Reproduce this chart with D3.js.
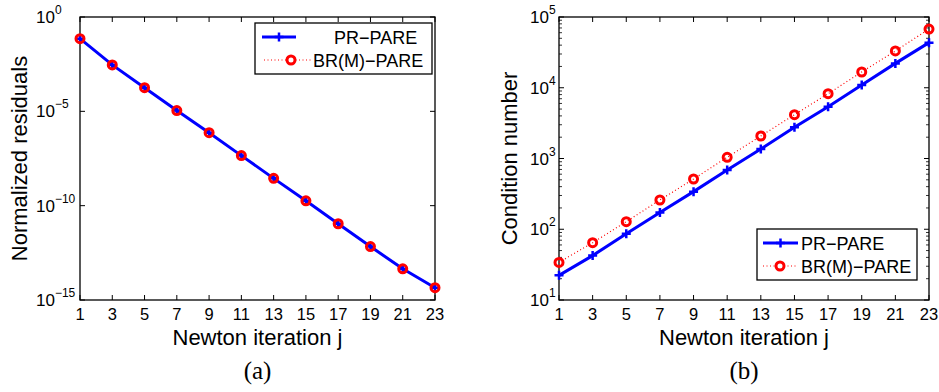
<!DOCTYPE html>
<html>
<head>
<meta charset="utf-8">
<script src="https://cdn.jsdelivr.net/npm/d3@7"></script>
<style>
  body { margin: 0; background: #fff; }
  svg { display: block; }
  text { font-family: "Liberation Sans", Arial, sans-serif; fill: #000; }
  .caption { font-family: "Liberation Serif", "DejaVu Serif", serif; }
</style>
</head>
<body>
<svg id="chart" width="939" height="392"></svg>
<script>
const iterations = [1, 3, 5, 7, 9, 11, 13, 15, 17, 19, 21, 23];
const seriesNames = ['PR\u2212PARE', 'BR(M)\u2212PARE'];

// (a) normalized residuals
const residualsPR = [7.1e-2, 2.9e-3, 1.8e-4, 1.1e-5, 7.4e-7, 4.5e-8, 2.8e-9, 1.8e-10, 1.1e-11, 6.8e-13, 4.5e-14, 4.5e-15];
const residualsBR = [7.1e-2, 2.9e-3, 1.8e-4, 1.1e-5, 7.4e-7, 4.5e-8, 2.8e-9, 1.8e-10, 1.1e-11, 6.8e-13, 4.5e-14, 4.5e-15];
const residualTicks = [0, -5, -10, -15];

// (b) condition number
const condPR = [22.3, 42.4, 86.5, 173, 340, 687, 1361, 2757, 5400, 10940, 22100, 43400];
const condBR = [34, 64.5, 128, 259, 513, 1040, 2080, 4160, 8240, 16700, 33100, 67600];
const condTicks = [1, 2, 3, 4, 5];

const svg = d3.select('#chart');
const blue = '#0000ff';
const red = '#ff0000';

function plusPath(px, py) {
  return `M${px - 4.5},${py}H${px + 4.5}M${px},${py - 4.5}V${py + 4.5}`;
}

function drawPanel(cfg) {
  const g = svg.append('g').attr('class', 'panel');
  const x = d3.scaleLinear().domain([1, 23]).range([cfg.left, cfg.right]);
  const y = d3.scaleLog().domain(cfg.yDomain).range([cfg.bottom, cfg.top]);

  // minor log ticks (inside, both sides)
  if (cfg.minor) {
    const minor = [];
    d3.range(Math.log10(cfg.yDomain[0]), Math.log10(cfg.yDomain[1])).forEach((e) => {
      d3.range(2, 10).forEach((m) => minor.push(m * Math.pow(10, e)));
    });
    [[cfg.left, 3], [cfg.right, -3]].forEach(([x0, len]) => {
      g.selectAll(null)
        .data(minor)
        .enter()
        .append('line')
        .attr('x1', x0).attr('x2', x0 + len)
        .attr('y1', (d) => y(d)).attr('y2', (d) => y(d))
        .attr('stroke', '#000').attr('stroke-width', 0.8);
    });
  }

  // major y ticks
  cfg.yTicks.forEach((e) => {
    const yy = y(Math.pow(10, e));
    g.append('line').attr('x1', cfg.left).attr('x2', cfg.left + 5).attr('y1', yy).attr('y2', yy).attr('stroke', '#000');
    g.append('line').attr('x1', cfg.right).attr('x2', cfg.right - 5).attr('y1', yy).attr('y2', yy).attr('stroke', '#000');
    const label = g.append('text')
      .attr('x', cfg.left - cfg.labelOffset)
      .attr('y', yy + 6)
      .style('font-size', '17px');
    label.append('tspan').text('10');
    label.append('tspan').attr('dy', -9).style('font-size', '12px').text(e < 0 ? '\u2212' + (-e) : e);
  });

  // x ticks
  [[cfg.bottom, -5], [cfg.top, 5]].forEach(([y0, len]) => {
    g.selectAll(null)
      .data(iterations)
      .enter()
      .append('line')
      .attr('x1', (d) => x(d)).attr('x2', (d) => x(d))
      .attr('y1', y0).attr('y2', y0 + len)
      .attr('stroke', '#000');
  });
  g.selectAll('text.xtick')
    .data(iterations)
    .enter()
    .append('text')
    .attr('class', 'xtick')
    .attr('x', (d) => x(d))
    .attr('y', cfg.bottom + 20)
    .attr('text-anchor', 'middle')
    .style('font-size', '16.5px')
    .text((d) => d);

  // box
  g.append('rect')
    .attr('x', cfg.left).attr('y', cfg.top)
    .attr('width', cfg.right - cfg.left).attr('height', cfg.bottom - cfg.top)
    .attr('fill', 'none').attr('stroke', '#000').attr('stroke-width', 1.3);

  // axis titles
  g.append('text')
    .attr('x', (cfg.left + cfg.right) / 2)
    .attr('y', cfg.bottom + 44.5)
    .attr('text-anchor', 'middle')
    .style('font-size', '22px')
    .text('Newton iteration j');
  g.append('text')
    .attr('transform', `translate(${cfg.yLabelX},${(cfg.top + cfg.bottom) / 2}) rotate(-90)`)
    .attr('text-anchor', 'middle')
    .style('font-size', '22px')
    .text(cfg.yLabel);
  g.append('text')
    .attr('class', 'caption')
    .attr('x', (cfg.left + cfg.right) / 2)
    .attr('y', cfg.bottom + 79)
    .attr('text-anchor', 'middle')
    .style('font-size', '25px')
    .text(cfg.caption);

  const line = d3.line().x((d) => x(d[0])).y((d) => y(d[1]));
  const prPts = iterations.map((j, i) => [j, cfg.pr[i]]);
  const brPts = iterations.map((j, i) => [j, cfg.br[i]]);

  // BR(M) dotted line
  g.append('path').datum(brPts).attr('d', line)
    .attr('fill', 'none').attr('stroke', red).attr('stroke-width', 1.2).attr('stroke-dasharray', '1,2.5');

  // PR line + plus markers
  g.append('path').datum(prPts).attr('d', line)
    .attr('fill', 'none').attr('stroke', blue).attr('stroke-width', 3);
  g.selectAll('path.plus')
    .data(prPts)
    .enter()
    .append('path')
    .attr('class', 'plus')
    .attr('d', (d) => plusPath(x(d[0]), y(d[1])))
    .attr('stroke', blue).attr('stroke-width', 2.5);

  // BR circles
  g.selectAll('circle.br')
    .data(brPts)
    .enter()
    .append('circle')
    .attr('class', 'br')
    .attr('cx', (d) => x(d[0])).attr('cy', (d) => y(d[1]))
    .attr('r', 4)
    .attr('fill', 'none').attr('stroke', red).attr('stroke-width', 3);

  // legend
  const L = cfg.legend;
  g.append('rect')
    .attr('x', L.x).attr('y', L.y).attr('width', L.w).attr('height', L.h)
    .attr('fill', '#fff').attr('stroke', '#000').attr('stroke-width', 1.3);
  const r1 = L.y + 14, r2 = L.y + 37;
  g.append('line').attr('x1', L.prLine[0]).attr('x2', L.prLine[1]).attr('y1', r1).attr('y2', r1)
    .attr('stroke', blue).attr('stroke-width', 3);
  g.append('path').attr('d', plusPath((L.prLine[0] + L.prLine[1]) / 2, r1))
    .attr('stroke', blue).attr('stroke-width', 2.5);
  g.append('line').attr('x1', L.brLine[0]).attr('x2', L.brLine[1]).attr('y1', r2).attr('y2', r2)
    .attr('stroke', red).attr('stroke-width', 1.2).attr('stroke-dasharray', '1,2.5');
  g.append('circle').attr('cx', L.brMarker).attr('cy', r2).attr('r', 4)
    .attr('fill', '#fff').attr('stroke', red).attr('stroke-width', 3);
  g.append('text').attr('x', L.prText).attr('y', r1 + 6.5).style('font-size', '18px').text(seriesNames[0]);
  g.append('text').attr('x', L.brText).attr('y', r2 + 6.5).style('font-size', '18px').text(seriesNames[1]);
}

drawPanel({
  left: 80, right: 435, top: 17, bottom: 300,
  yDomain: [1e-15, 1], yTicks: residualTicks, minor: false, labelOffset: 44,
  yLabel: 'Normalized residuals', yLabelX: 27, caption: '(a)',
  pr: residualsPR, br: residualsBR,
  legend: { x: 255, y: 23, w: 177, h: 51, prLine: [262, 296], brLine: [264, 312], brMarker: 291, prText: 334, brText: 313 }
});

drawPanel({
  left: 559, right: 929, top: 17, bottom: 300,
  yDomain: [10, 1e5], yTicks: condTicks, minor: true, labelOffset: 29,
  yLabel: 'Condition number', yLabelX: 517, caption: '(b)',
  pr: condPR, br: condBR,
  legend: { x: 757, y: 229, w: 160, h: 51, prLine: [763, 798], brLine: [763, 798], brMarker: 780, prText: 801, brText: 801 }
});
</script>
</body>
</html>
